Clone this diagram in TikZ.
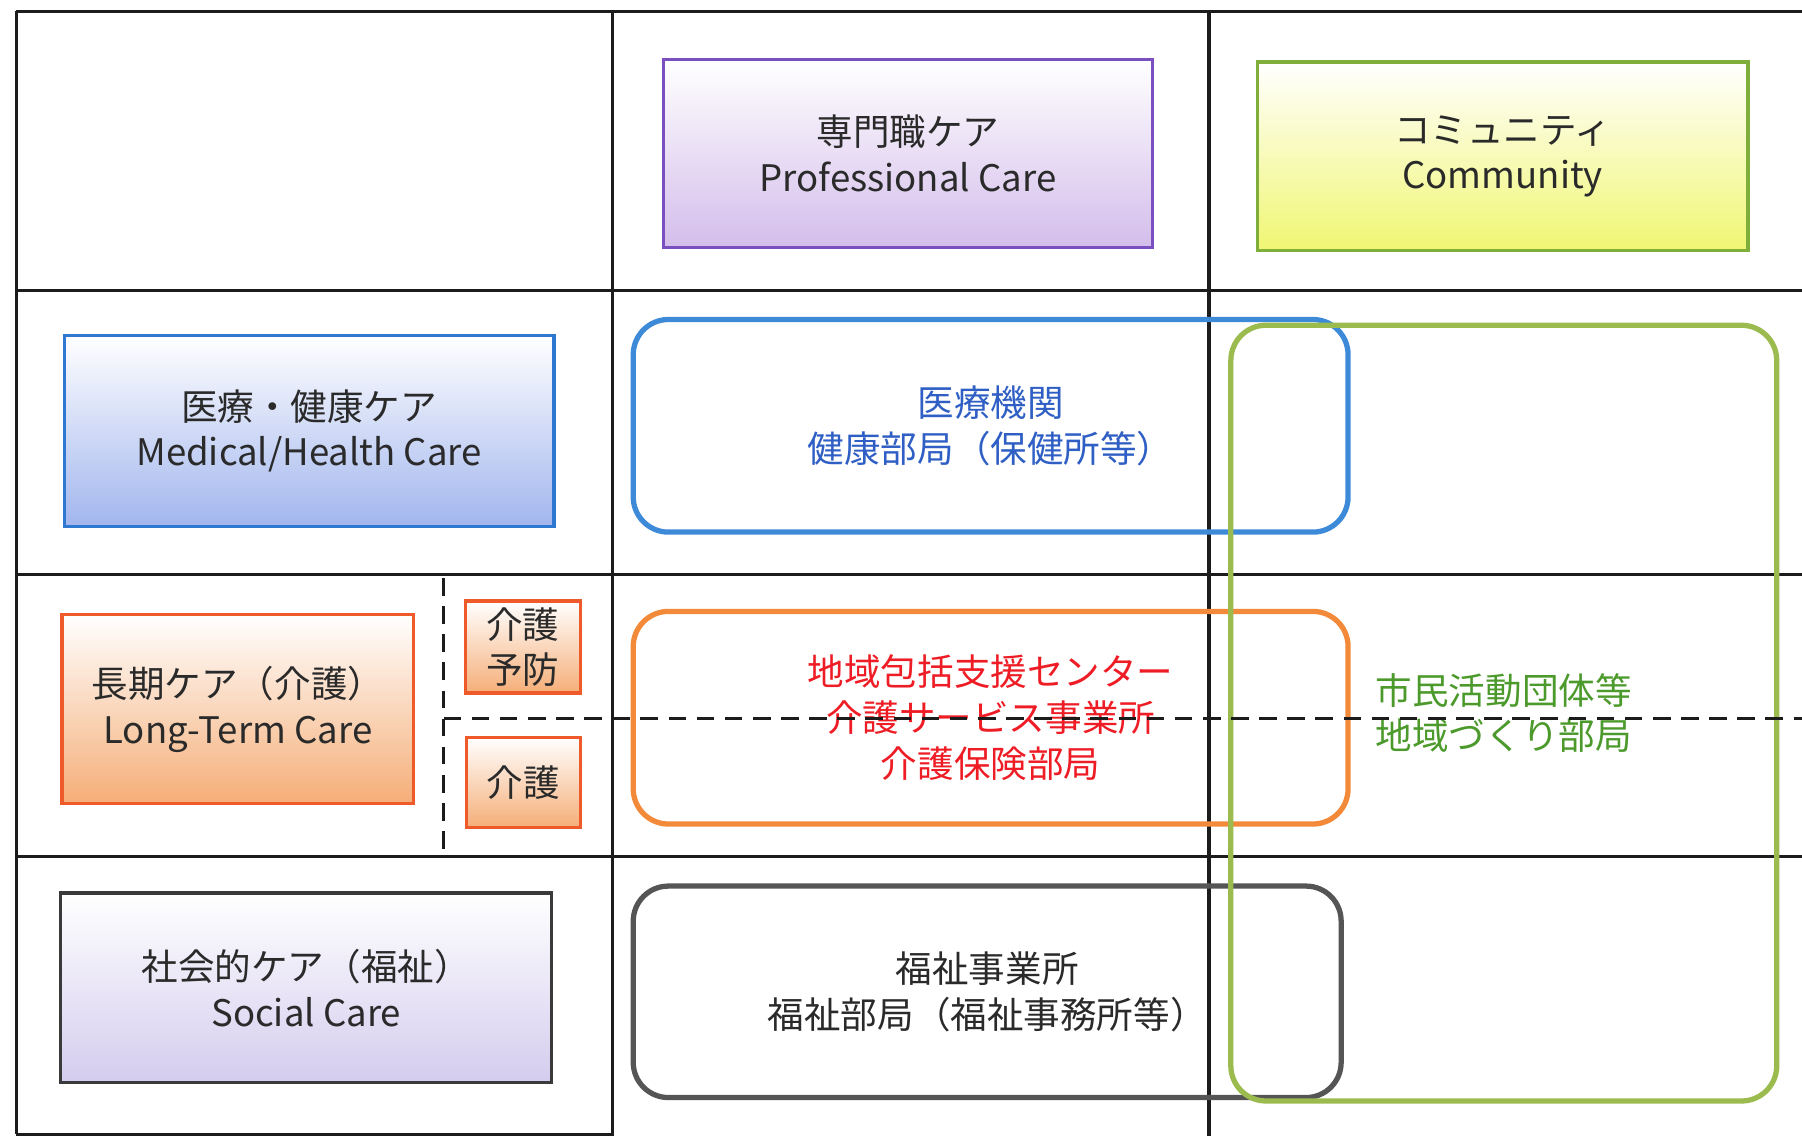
\documentclass[tikz,border=0pt]{standalone}
\usepackage{fontspec}
\setmainfont{Noto Sans CJK JP}
\usetikzlibrary{calc}
\definecolor{gridline}{HTML}{1C1C1C}
\definecolor{profline}{HTML}{7A4FC0}
\definecolor{proffill}{HTML}{D4BDEB}
\definecolor{commline}{HTML}{7FAE3A}
\definecolor{commfill}{HTML}{F0F672}
\definecolor{medline}{HTML}{2E78D2}
\definecolor{medfill}{HTML}{A2B6EE}
\definecolor{ltcline}{HTML}{EE5A2A}
\definecolor{ltcfill}{HTML}{F5AE78}
\definecolor{socline}{HTML}{3A3A3A}
\definecolor{socfill}{HTML}{D4CCEE}
\definecolor{bluetext}{HTML}{2F5FC4}
\definecolor{redtext}{HTML}{EE1C25}
\definecolor{greentext}{HTML}{4C9A2C}
\definecolor{grytext}{HTML}{2A2A2A}
\definecolor{bluering}{HTML}{3C8AD8}
\definecolor{orangering}{HTML}{F28A3A}
\definecolor{grayring}{HTML}{555555}
\definecolor{greenring}{HTML}{9BBB4F}
\newcommand{\unitpx}{0.011492cm}
\tikzset{l/.style={font=\fontsize{10.4}{13}\selectfont, align=center, text=grytext}}
\tikzset{cat/.style={l, draw, line width=0.9pt, inner sep=0pt}}
\tikzset{ring/.style={l, draw, line width=1.5pt, rounded corners=10pt, inner sep=0pt}}
\tikzset{sz/.style 2 args={minimum width=#1*\unitpx, minimum height=#2*\unitpx}}

\begin{document}
\begin{tikzpicture}[x=\unitpx, y=-\unitpx]
  \useasboundingbox (0,0) rectangle (1568,988.5);
  % table
  \foreach \yy in {10,253,500,745}
    \draw[gridline, line width=0.9pt] (14,\yy) -- (1568,\yy);
  \draw[gridline, line width=0.9pt] (14,987) -- (533,987);
  \foreach \xx in {533,1052}
    \draw[gridline, line width=0.9pt] (\xx,10) -- (\xx,988.5);
  \draw[gridline, line width=0.9pt] (14,10) -- (14,987);
  \draw[gridline, line width=0.8pt, dash pattern=on 5pt off 3pt] (386,503) -- (386,745);
  % headings
  \node[cat, sz={426}{163}, draw=profline, top color=white, bottom color=proffill] (prof) at (790,133.5)
    {専門職ケア\\Professional Care};
  \node[cat, sz={427}{164}, draw=commline, top color=white, bottom color=commfill] (comm) at (1307.5,136)
    {コミュニティ\\Community};
  \node[cat, sz={426}{166}, draw=medline, top color=white, bottom color=medfill] (med) at (269,375)
    {医療・健康ケア\\Medical/Health Care};
  \node[cat, sz={306}{164}, draw=ltcline, top color=white, bottom color=ltcfill] (ltc) at (207,617)
    {長期ケア（介護）\\Long-Term Care};
  \node[cat, sz={100}{80}, draw=ltcline, top color=white, bottom color=ltcfill] (prev) at (455,563)
    {介護\\予防};
  \node[cat, sz={99}{78}, draw=ltcline, top color=white, bottom color=ltcfill] (kaigo) at (455.5,681)
    {介護};
  \node[cat, sz={427}{165}, draw=socline, top color=white, bottom color=socfill] (soc) at (266.5,859.5)
    {社会的ケア（福祉）\\Social Care};
  % organisations
  \node[ring, sz={622}{185}, draw=bluering, text=bluetext] (hosp) at (862,370.5)
    {医療機関\\健康部局（保健所等）};
  \node[ring, sz={622}{185}, draw=orangering, text=redtext] (center) at (862,624.5)
    {地域包括支援センター\\介護サービス事業所\\介護保険部局};
  \node[ring, sz={616}{184}, draw=grayring] (welf) at (859,863)
    {福祉事業所\\福祉部局（福祉事務所等）};
  \node[ring, sz={475}{675}, draw=greenring, text=greentext] (citizen) at (1308.5,620.5)
    {市民活動団体等\\地域づくり部局};
  \draw[gridline, line width=0.8pt, dash pattern=on 5pt off 3pt] (386,625) -- (1568,625);
\end{tikzpicture}
\end{document}
